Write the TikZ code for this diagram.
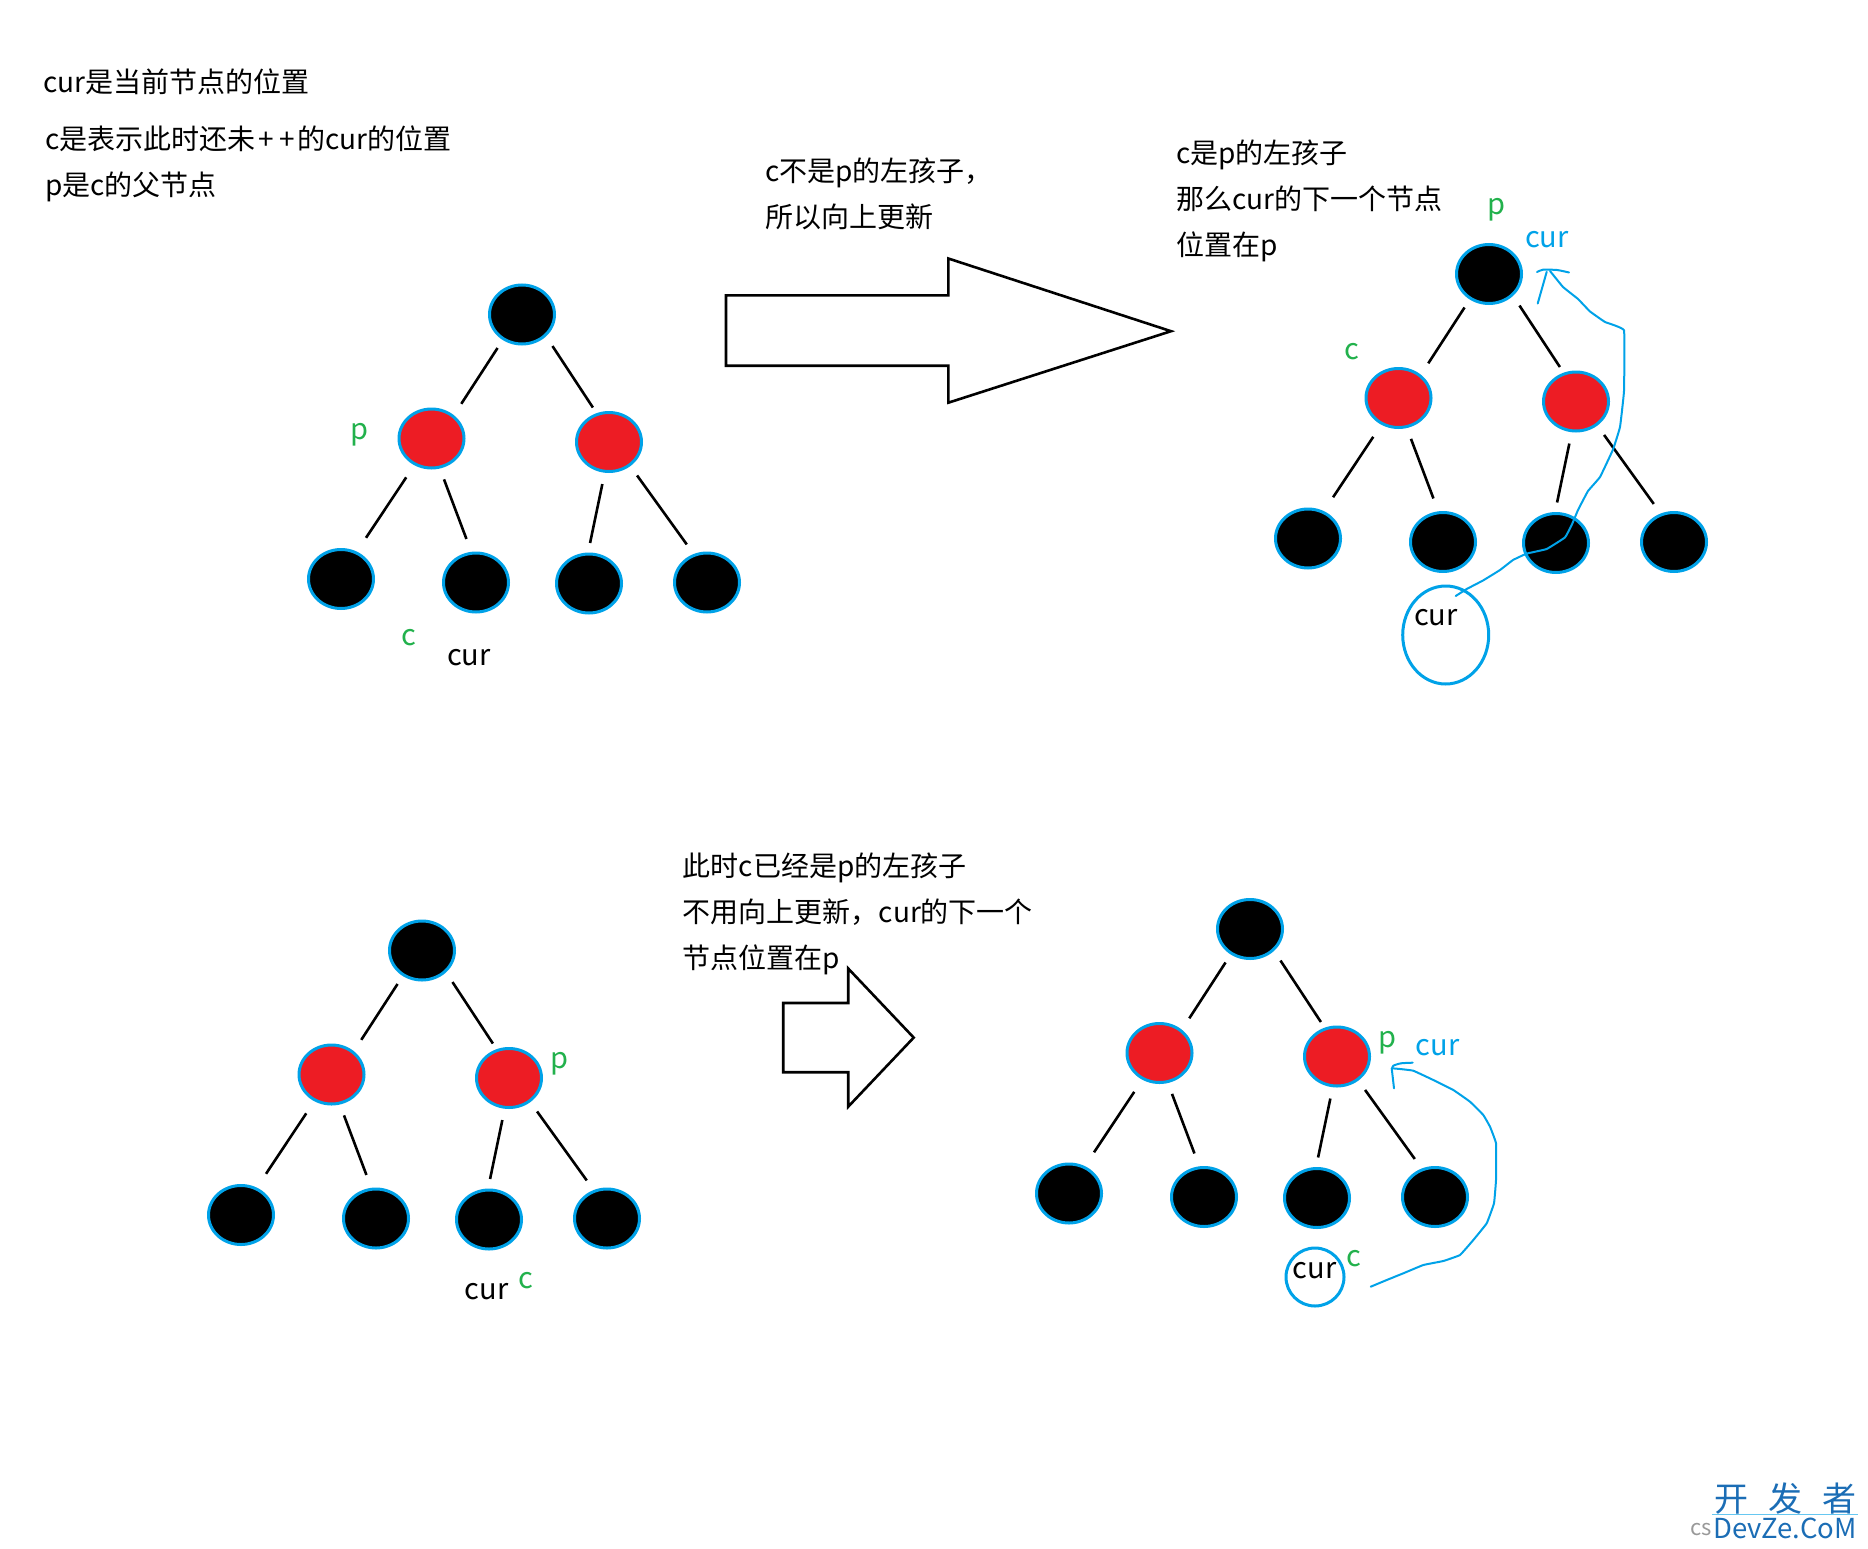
\documentclass[tikz,border=0pt]{standalone}
\usepackage{fontspec}
\setmainfont{Noto Sans CJK SC}
\usepackage{tikz}
\usetikzlibrary{shapes.geometric}

\definecolor{nodeblue}{HTML}{00A2E8}
\definecolor{nodered}{HTML}{ED1C24}
\definecolor{labelgreen}{HTML}{22B14C}
\definecolor{markblue}{HTML}{1B6DB5}

\newcommand{\rbtree}[3]{
  \begin{scope}[shift={(#2,#3)},name prefix=#1-]
    \node[blacknode] (root) at (0,0) {};
    \node[rednode] (lred) at (-90.5,124) {};
    \node[rednode] (rred) at (87,127.5) {};
    \node[blacknode] (leafa) at (-181,264.5) {};
    \node[blacknode] (leafb) at (-46,268) {};
    \node[blacknode] (leafc) at (67,269) {};
    \node[blacknode] (leafd) at (185,268) {};
    \draw[treeedge, shorten <=-2pt, shorten >=2pt] (root.234.5) -- (lred.49);
    \draw[treeedge, shorten >=-5pt] (root.-46) -- (rred.116.6);
    \draw[treeedge, shorten <=3pt, shorten >=5pt] (lred.-123.7) -- (leafa.59);
    \draw[treeedge, shorten >=2pt] (lred.-73.6) -- (leafb.102);
    \draw[treeedge, shorten >=-2pt] (rred.-99.5) -- (leafc.88);
    \draw[treeedge] (rred.-50.6) -- (leafd.118);
  \end{scope}
}

\begin{document}
\begin{tikzpicture}[
  x=1pt, y=-1pt,
  blacknode/.style={ellipse, draw=nodeblue, line width=3pt, fill=black, minimum width=65pt, minimum height=59pt, inner sep=0pt, outer sep=13pt},
  rednode/.style={blacknode, fill=nodered},
  treeedge/.style={draw, line width=2.6pt},
  bigarrow/.style={draw, line width=2.6pt, fill=white, line join=miter},
  notetext/.style={font=\fontsize{28}{46}\selectfont, align=left, anchor=west, inner sep=0pt, yshift=-2.5pt},
  marklabel/.style={font=\fontsize{29}{34}\selectfont, inner sep=0pt, yshift=-3pt},
  greenlabel/.style={marklabel, text=labelgreen},
  bluelabel/.style={marklabel, text=nodeblue},
  curring/.style={ellipse, draw=nodeblue, line width=3pt, inner sep=0pt},
  freehand/.style={draw=nodeblue, line width=2pt, line join=round, line cap=round}
]
\useasboundingbox (0,0) rectangle (1868,1549);

\node[notetext] (curnote) at (43,79.5) {cur是当前节点的位置};
\node[notetext] (cnote) at (45,161.5) {c是表示此时还未\hspace{3pt}+\hspace{5pt}+\hspace{3pt}的cur的位置\\p是c的父节点};
\node[notetext] (upnote) at (765,191.5) {c不是p的左孩子，\\所以向上更新};
\node[notetext] (leftnote) at (1176,198) {c是p的左孩子\\那么cur的下一个节点\\位置在p};
\node[notetext] (stopnote) at (682.6,911) {此时c已经是p的左孩子\\不用向上更新，cur的下一个\\节点位置在p};

\rbtree{a}{522}{314.5}
\rbtree{b}{1489}{274}
\rbtree{c}{422}{950.5}
\rbtree{d}{1250}{929}

\draw[bigarrow] (726,295.4) -- (948.3,295.4) -- (948.3,258.5) -- (1171,331.2) -- (948.3,402.7) -- (948.3,365.7) -- (726,365.7) -- cycle;
\draw[bigarrow] (783.2,1003) -- (848.2,1003) -- (848.2,968.5) -- (913.7,1037.6) -- (848.2,1106.7) -- (848.2,1072.2) -- (783.2,1072.2) -- cycle;

\node[greenlabel] (pa) at (359.5,431.5) {p};
\node[greenlabel] (ca) at (408.6,635) {c};
\node[marklabel] (cura) at (469,655) {cur};

\node[greenlabel] (pb) at (1496,206.5) {p};
\node[bluelabel] (curb) at (1547,237) {cur};
\node[greenlabel] (cb) at (1352,349) {c};
\node[curring, minimum width=86pt, minimum height=98pt] (ringb) at (1445.7,635) {};
\node[marklabel] (curbb) at (1436,615) {cur};

\node[greenlabel] (pc) at (559,1060.5) {p};
\node[marklabel] (curc) at (486.5,1289) {cur};
\node[greenlabel] (cc) at (525.5,1278) {c};

\node[greenlabel] (pd) at (1387,1039.5) {p};
\node[bluelabel] (curd) at (1437.5,1045) {cur};
\node[greenlabel] (cd) at (1353.5,1256) {c};
\node[curring, minimum width=58pt, minimum height=58pt] (ringd) at (1315,1277) {};
\node[marklabel] (curdd) at (1314.5,1268) {cur};

\draw[freehand] plot[smooth, tension=0.15] coordinates {(1455.7,596) (1466.7,589) (1483,580.5) (1500,570) (1513,560) (1526.7,553.6) (1546.7,549) (1565,537.4) (1571.7,525) (1578,510) (1588,491) (1600,477) (1613,449.5) (1620,427) (1624,391) (1624,330.4) (1605,322) (1590,311.5) (1578,299) (1563,287) (1550,271)};
\draw[freehand] (1537.7,303.5) -- (1546.7,271.8);
\draw[freehand] plot[smooth, tension=0.4] coordinates {(1537,272) (1543,269.7) (1557,270) (1569,272.5)};

\draw[freehand] plot[smooth, tension=0.15] coordinates {(1370.7,1286.7) (1386.7,1280) (1403.3,1273.3) (1423.3,1265) (1443.3,1261) (1460,1255) (1473.3,1240) (1486.7,1223.3) (1494,1203.3) (1496,1180) (1496,1143.3) (1490,1126.7) (1483.3,1115) (1470,1101.7) (1453.3,1090) (1433.3,1080) (1413.3,1070.7) (1400,1069) (1392.3,1068.3)};
\draw[freehand] (1391.7,1068.3) -- (1394,1088.3);
\draw[freehand] plot[smooth, tension=0.4] coordinates {(1392.3,1068.3) (1393.3,1065.7) (1401,1063.3) (1412.7,1062.7)};

\node[font=\fontsize{34}{40}\selectfont, text=markblue, inner sep=0pt] (markcn) at (1785,1499) {开\hspace{20pt}发\hspace{20pt}者};
\node[font=\fontsize{27.5}{33}\selectfont, text=markblue, inner sep=0pt, anchor=west] (markdev) at (1713,1528) {DevZe.CoM};
\node[font=\fontsize{22}{26}\selectfont, text=black!40, inner sep=0pt, anchor=east] (markcs) at (1712,1529) {cs};
\draw[nodeblue!60, line width=1pt] (1712,1514) -- (1858,1514);
\end{tikzpicture}
\end{document}
